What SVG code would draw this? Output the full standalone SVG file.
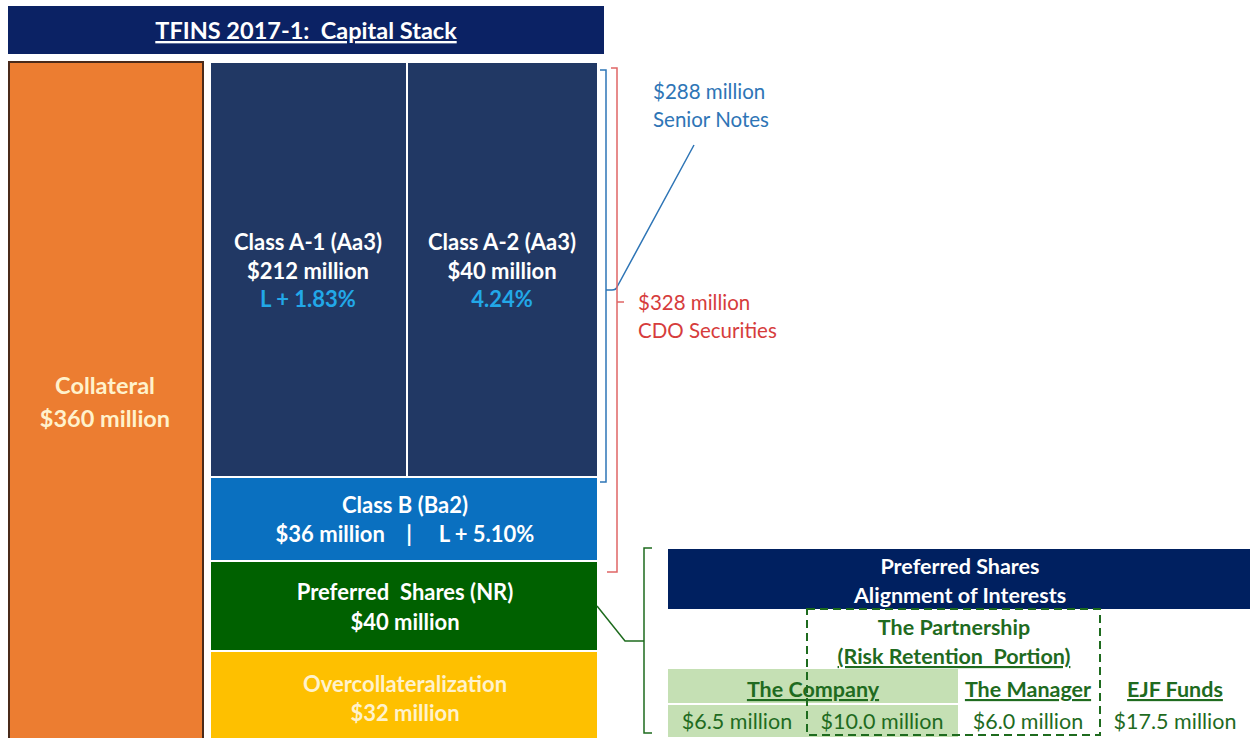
<svg xmlns="http://www.w3.org/2000/svg" width="1250" height="738" viewBox="0 0 1250 738">
<style>
text{font-family:Lato,"Open Sans","Liberation Sans",sans-serif;text-anchor:middle}
.w{fill:#ffffff;font-weight:bold;font-size:22px}
.cy{fill:#22a8e8;font-weight:bold;font-size:22px}
.oc{fill:#fff2cc;font-weight:bold;font-size:22px}
.lbl{font-size:20.5px;text-anchor:start}
.g{fill:#1f6b1f;font-size:21.5px}
.gb{fill:#1f6b1f;font-size:21.5px;font-weight:bold;text-decoration:underline}
.br{fill:none;stroke-width:1.5}
</style>
<rect width="1250" height="738" fill="#ffffff"/>
<g id="title">
<rect x="8" y="6" width="596" height="48" fill="#0b2264"/>
<text x="306" y="39" class="w" style="font-size:23.5px;text-decoration:underline" xml:space="preserve">TFINS 2017-1:  Capital Stack</text>
</g>
<g id="collateral">
<rect x="9" y="62" width="194" height="680" fill="#ec7d31" stroke="#4a2a1a" stroke-width="2"/>
<text x="105" y="394" class="oc" style="font-size:23.5px">Collateral</text>
<text x="105" y="427" class="oc" style="font-size:23.5px">$360 million</text>
</g>
<g id="classA1">
<rect x="211" y="63" width="195" height="413" fill="#213864"/>
<text x="308" y="250" class="w">Class A-1 (Aa3)</text>
<text x="308" y="279" class="w">$212 million</text>
<text x="308" y="307" class="cy">L + 1.83%</text>
</g>
<g id="classA2">
<rect x="408" y="63" width="189" height="413" fill="#213864"/>
<text x="502" y="250" class="w">Class A-2 (Aa3)</text>
<text x="502" y="279" class="w">$40 million</text>
<text x="502" y="307" class="cy">4.24%</text>
</g>
<g id="classB">
<rect x="211" y="478" width="386" height="82" fill="#0a70c0"/>
<text x="405" y="513" class="w">Class B (Ba2)</text>
<text x="405" y="542" class="w" xml:space="preserve">$36 million    |     L + 5.10%</text>
</g>
<g id="preferred">
<rect x="211" y="562" width="386" height="88" fill="#006100"/>
<text x="405" y="600" class="w" xml:space="preserve">Preferred  Shares (NR)</text>
<text x="405" y="630" class="w">$40 million</text>
</g>
<g id="overcollateralization">
<rect x="211" y="652" width="386" height="86" fill="#fec000"/>
<text x="405" y="692" class="oc">Overcollateralization</text>
<text x="405" y="721" class="oc">$32 million</text>
</g>
<g id="connectors">
<path class="br" stroke="#2e75b6" d="M600 70 H606 V482 H600 M606 290 H612 Q616 290 617 287 L694 145"/>
<path class="br" stroke="#e06666" d="M611 68 H617 V572 H607 M617 302 H624"/>
<path class="br" stroke="#1e6b1e" stroke-width="2" d="M652 548 H644 V733 H652 M644 641 H625 L597 606"/>
</g>
<g id="senior-notes-label">
<text x="653" y="99" class="lbl" fill="#2e75b6">$288 million</text>
<text x="653" y="127" class="lbl" fill="#2e75b6">Senior Notes</text>
</g>
<g id="cdo-label">
<text x="638" y="310" class="lbl" fill="#d63c3c">$328 million</text>
<text x="638" y="338" class="lbl" fill="#d63c3c">CDO Securities</text>
</g>
<g id="pref-header">
<rect x="668" y="549" width="582" height="60" fill="#002060"/>
<text x="960" y="574" class="w" style="font-size:21.5px">Preferred Shares</text>
<text x="960" y="603" class="w" style="font-size:21.5px">Alignment of Interests</text>
</g>
<g id="company">
<rect x="668" y="669" width="290" height="34" fill="#c5e0b4"/>
<rect x="668" y="705" width="290" height="32" fill="#c5e0b4"/>
<text x="813" y="697" class="gb">The Company</text>
<text x="737" y="729" class="g">$6.5 million</text>
<text x="882" y="729" class="g">$10.0 million</text>
</g>
<g id="partnership">
<rect x="807" y="609" width="293" height="126" fill="none" stroke="#1e6b1e" stroke-width="2" stroke-dasharray="8,5"/>
<text x="954" y="635" class="g" style="font-weight:bold">The Partnership</text>
<text x="954" y="664" class="gb" xml:space="preserve">(Risk Retention  Portion)</text>
</g>
<g id="manager">
<text x="1028" y="697" class="gb">The Manager</text>
<text x="1028" y="729" class="g">$6.0 million</text>
</g>
<g id="ejf">
<text x="1175" y="697" class="gb">EJF Funds</text>
<text x="1175" y="729" class="g">$17.5 million</text>
</g>
</svg>
